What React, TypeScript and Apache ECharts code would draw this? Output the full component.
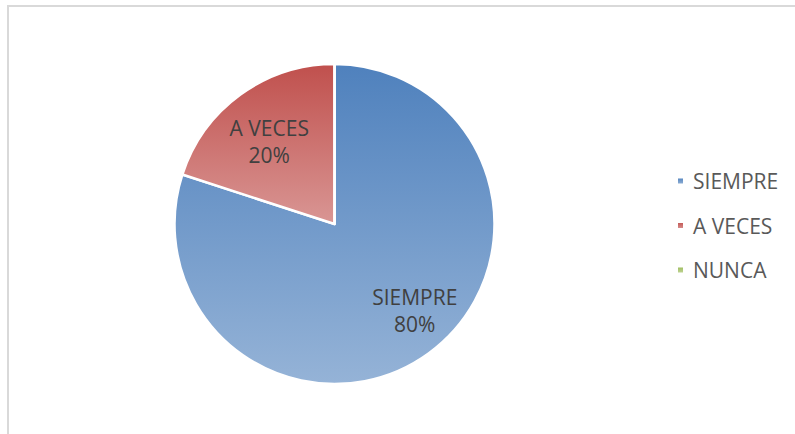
import React, { useEffect, useRef } from "react";
import * as echarts from "echarts";

const categories = ["SIEMPRE", "A VECES", "NUNCA"];
const values = [80, 20, 0];
const topColors = ["#4f81bd", "#c0504d", "#9bbb59"];
const bottomColors = ["#95b3d7", "#d99694", "#c3d69b"];
const labelOffsets: number[][] = [[15, -3], [0, 7], [0, 0]];

export default function App() {
  const ref = useRef<HTMLDivElement>(null);
  useEffect(() => {
    if (!ref.current) return;
    const chart = echarts.init(ref.current, null, { renderer: "svg" });
    const grad = (i: number) =>
      new echarts.graphic.LinearGradient(0, 0, 0, 1, [
        { offset: 0, color: topColors[i] },
        { offset: 1, color: bottomColors[i] },
      ]);
    const data = categories.map((name, i) => ({
      name,
      value: values[i],
      itemStyle: { color: grad(i) },
    }));
    const labelData = categories.map((name, i) => ({
      name,
      value: values[i],
      itemStyle: { color: "rgba(0,0,0,0)" },
      label: { show: values[i] > 0, offset: labelOffsets[i] },
    }));
    chart.setOption({
      animation: false,
      backgroundColor: "#ffffff",
      color: topColors,
      graphic: [
        {
          type: "rect",
          shape: { x: 8, y: 6, width: 820, height: 460 },
          style: { fill: "none", stroke: "#d9d9d9", lineWidth: 2 },
          silent: true,
        },
      ],
      legend: {
        orient: "vertical",
        left: 676,
        top: 169,
        padding: 0,
        itemWidth: 7,
        itemHeight: 7,
        itemGap: 20.5,
        icon: "rect",
        data: categories.map((name, i) => ({
          name,
          itemStyle: { color: grad(i) },
        })),
        textStyle: {
          fontFamily: "Open Sans",
          fontSize: 21,
          color: "#595959",
          lineHeight: 24,
          padding: [0, 0, 0, 4],
        },
      },
      series: [
        {
          type: "pie",
          center: [334.5, 224],
          radius: [0, 160],
          startAngle: 90,
          clockwise: true,
          avoidLabelOverlap: false,
          itemStyle: { borderColor: "#ffffff", borderWidth: 2.5 },
          label: { show: false },
          labelLine: { show: false },
          emphasis: { disabled: true },
          data,
        },
        {
          type: "pie",
          center: [334.5, 224],
          radius: [0, 216],
          startAngle: 90,
          clockwise: true,
          silent: true,
          avoidLabelOverlap: false,
          legendHoverLink: false,
          label: {
            show: true,
            position: "inside",
            formatter: (p: any) => `${p.name}\n${p.percent}%`,
            fontFamily: "Open Sans",
            fontSize: 21,
            lineHeight: 27,
            color: "#404040",
          },
          labelLine: { show: false },
          emphasis: { disabled: true },
          data: labelData,
        },
      ],
    });
    return () => chart.dispose();
  }, []);
  return (
    <div
      ref={ref}
      style={{ position: "fixed", left: 0, top: 0, width: 795, height: 434 }}
    />
  );
}
